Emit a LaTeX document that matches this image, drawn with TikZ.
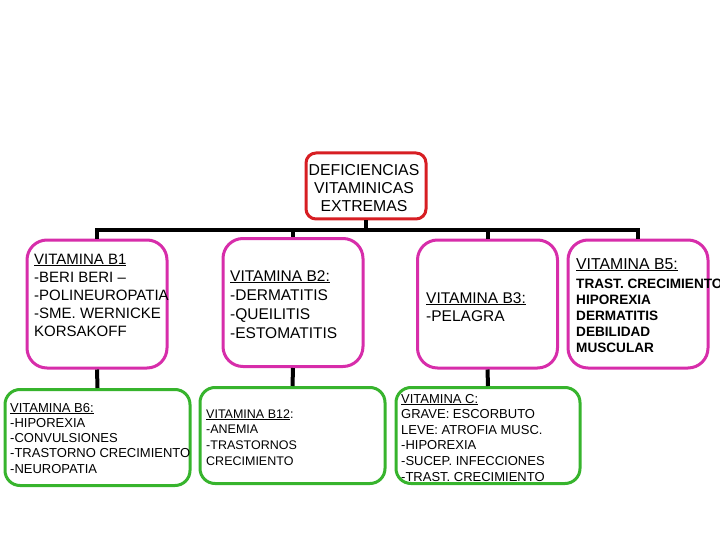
\documentclass[tikz,border=0pt]{standalone}
\usepackage{fontspec}
\setmainfont{Liberation Sans}
\definecolor{redb}{RGB}{215,30,35}
\definecolor{magb}{RGB}{215,45,170}
\definecolor{grnb}{RGB}{55,180,45}
\begin{document}
\begin{tikzpicture}[x=1pt,y=-1pt,
  box/.style={draw,line width=3pt,fill=white,inner sep=0pt,minimum width=#1},
  rootbox/.style={box=120pt,draw=redb,rounded corners=10pt,minimum height=66pt},
  magbox/.style={box=140pt,draw=magb,rounded corners=20pt,minimum height=128pt},
  grnbox/.style={box=185pt,draw=grnb,rounded corners=15pt,minimum height=96pt},
  link/.style={line width=4pt,black},
  txt/.style={inner sep=0pt,anchor=base west,align=left}]
\useasboundingbox (0,0) rectangle (720,540);
% boxes
\node[rootbox] (root) at (366,186) {};
\node[magbox] (b1) at (97,304) {};
\node[magbox] (b2) at (293,302.5) {};
\node[magbox] (b3) at (487.5,304) {};
\node[magbox] (b5) at (638,304) {};
\node[grnbox] (b6) at (97.5,437.5) {};
\node[grnbox] (b12) at (292.5,435.5) {};
\node[grnbox,minimum width=184pt] (bc) at (488,435.5) {};
% connectors
\coordinate (busL) at (95,230);
\coordinate (busR) at (640,230);
\draw[link] (busL) -- (busR);
\draw[link] (root.south) -- (root.south |- busL);
\draw[link] (b1.north) -- (b1.north |- busL);
\draw[link] (b2.north) -- (b2.north |- busL);
\draw[link] (b3.north) -- (b3.north |- busL);
\draw[link] (b5.north) -- (b5.north |- busL);
\draw[link] (b1.south) -- (b6.north);
\draw[link] (b2.south) -- (b12.north);
\draw[link] (b3.south) -- (bc.north);
% texts (anchored at the baseline of the last line)
\node[inner sep=0pt,anchor=base,align=center,font=\fontsize{15.8}{18}\selectfont] (troot) at (364,211.5)
  {DEFICIENCIAS\\VITAMINICAS\\EXTREMAS};
\node[txt,font=\fontsize{15}{18}\selectfont] (t1) at (34,336)
  {\underline{VITAMINA B1}\\-BERI BERI –\\-POLINEUROPATIA\\-SME. WERNICKE\\KORSAKOFF};
\node[txt,font=\fontsize{15.5}{19}\selectfont] (t2) at (230,338)
  {\underline{VITAMINA B2:}\\-DERMATITIS\\-QUEILITIS\\-ESTOMATITIS};
\node[txt,font=\fontsize{15.5}{18}\selectfont] (t3) at (426,321)
  {\underline{VITAMINA B3:}\\-PELAGRA};
\node[txt,font=\fontsize{15.8}{18}\selectfont] (t5a) at (576,269)
  {\underline{VITAMINA B5:}};
\node[txt,font=\fontsize{13.6}{16}\selectfont\bfseries] (t5b) at (576,352)
  {TRAST. CRECIMIENTO\\HIPOREXIA\\DERMATITIS\\DEBILIDAD\\MUSCULAR};
\node[txt,font=\fontsize{13}{15.3}\selectfont] (t6) at (10,473.2)
  {\underline{VITAMINA B6:}\\-HIPOREXIA\\-CONVULSIONES\\-TRASTORNO CRECIMIENTO\\-NEUROPATIA};
\node[txt,font=\fontsize{12.5}{15.7}\selectfont] (t12) at (206,465.1)
  {\underline{VITAMINA B12}:\\-ANEMIA\\-TRASTORNOS\\CRECIMIENTO};
\node[txt,font=\fontsize{13}{15.6}\selectfont] (tc) at (401,481)
  {\underline{VITAMINA C:}\\GRAVE: ESCORBUTO\\LEVE: ATROFIA MUSC.\\-HIPOREXIA\\-SUCEP. INFECCIONES\\-TRAST. CRECIMIENTO};
\end{tikzpicture}
\end{document}
